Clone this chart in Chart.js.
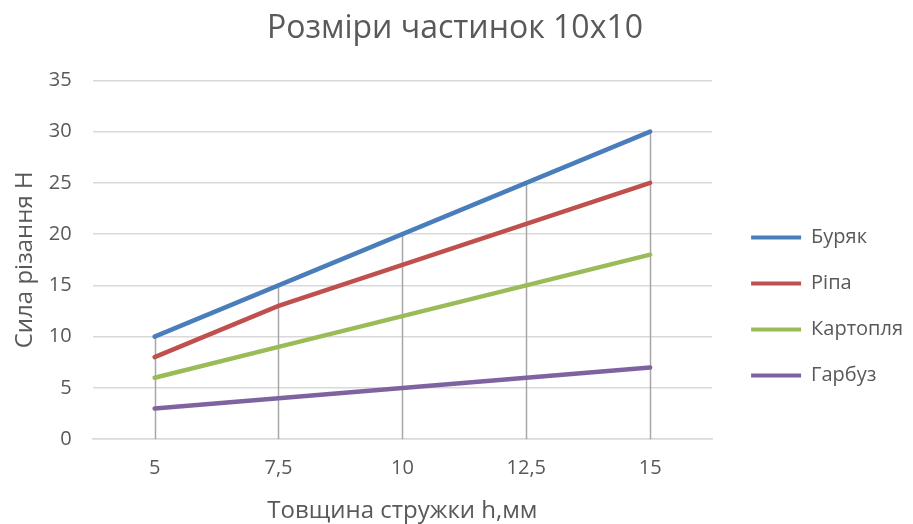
<!DOCTYPE html>
<html>
<head>
<meta charset="utf-8">
<script src="https://cdn.jsdelivr.net/npm/chart.js@4/dist/chart.umd.min.js"></script>
<style>
  html, body { margin: 0; padding: 0; background: #ffffff; }
  #wrap { width: 913px; height: 524px; }
</style>
</head>
<body>
<div id="wrap"><canvas id="c" width="913" height="524"></canvas></div>
<script>
// Товщина стружки (мм) і сила різання (Н) для кожного овоча
const categories = ["5", "7,5", "10", "12,5", "15"];
const buryak    = [10, 15, 20, 25, 30];
const ripa      = [8, 13, 17, 21, 25];
const kartoplia = [6, 9, 12, 15, 18];
const garbuz    = [3, 4, 5, 6, 7];
const seriesNames = ["Буряк", "Ріпа", "Картопля", "Гарбуз"];
const yTicks = [0, 5, 10, 15, 20, 25, 30, 35];

const colors = ["#4a7ebb", "#c0504d", "#9bbb59", "#7f63a1"];
const FONT = "'Open Sans', 'Noto Sans', sans-serif";
const TEXT = "#595959";
const LEGEND_PAD = 26;

// Вертикальні лінії від найвищої точки до осі X
const dropLines = {
  id: "dropLines",
  beforeDatasetsDraw(chart) {
    const ctx = chart.ctx;
    const y = chart.scales.y;
    const n = chart.data.labels.length;
    ctx.save();
    ctx.strokeStyle = "#a6a6a6";
    ctx.lineWidth = 1.5;
    for (let i = 0; i < n; i++) {
      let top = Infinity, x = null;
      chart.data.datasets.forEach((ds, k) => {
        const pt = chart.getDatasetMeta(k).data[i];
        if (pt) { x = pt.x; top = Math.min(top, pt.y); }
      });
      if (x === null) continue;
      ctx.beginPath();
      ctx.moveTo(Math.round(x) + 0.5, top);
      ctx.lineTo(Math.round(x) + 0.5, y.getPixelForValue(0));
      ctx.stroke();
    }
    ctx.restore();
  }
};

// Легенда праворуч: відступ від області графіка та вертикальне положення
const legendPlacement = {
  id: "legendPlacement",
  afterLayout(chart) {
    const lg = chart.legend;
    const area = chart.chartArea;
    const w = lg.width, h = lg.height;
    lg.left = area.right + 39 - LEGEND_PAD;
    lg.right = lg.left + w;
    lg.top = area.top + 147 - LEGEND_PAD;
    lg.bottom = lg.top + h;
  }
};

const seriesData = [buryak, ripa, kartoplia, garbuz];

new Chart(document.getElementById("c"), {
  type: "line",
  data: {
    labels: categories,
    datasets: seriesData.map((d, i) => ({
      label: seriesNames[i],
      data: d,
      borderColor: colors[i],
      backgroundColor: colors[i],
      borderWidth: 4.5,
      pointRadius: 0,
      tension: 0,
      borderCapStyle: "round"
    }))
  },
  options: {
    responsive: false,
    animation: false,
    layout: { padding: { left: 10, right: 13, top: 10, bottom: 0 } },
    plugins: {
      title: {
        display: true,
        text: "Розміри частинок 10x10",
        color: TEXT,
        font: { family: FONT, size: 32, weight: "normal" },
        padding: { top: 0, bottom: 32 }
      },
      legend: {
        position: "right",
        align: "start",
        labels: {
          color: TEXT,
          font: { family: FONT, size: 20 },
          boxWidth: 50,
          boxHeight: 4,
          padding: LEGEND_PAD,
          generateLabels(chart) {
            return chart.data.datasets.map((ds, i) => ({
              text: ds.label,
              fillStyle: ds.borderColor,
              strokeStyle: ds.borderColor,
              lineWidth: 0,
              fontColor: TEXT,
              datasetIndex: i
            }));
          }
        }
      },
      tooltip: { enabled: false }
    },
    scales: {
      x: {
        offset: true,
        grid: { display: false, drawTicks: false },
        border: { display: true, color: "#d9d9d9", width: 1.5 },
        ticks: { color: TEXT, font: { family: FONT, size: 20 }, padding: 17 },
        title: {
          display: true,
          text: "Товщина стружки h,мм",
          color: TEXT,
          font: { family: FONT, size: 24 },
          padding: { top: 0, bottom: -2 }
        }
      },
      y: {
        min: yTicks[0],
        max: yTicks[yTicks.length - 1],
        afterBuildTicks(scale) { scale.ticks = yTicks.map(v => ({ value: v })); },
        grid: { color: "#d9d9d9", lineWidth: 1.5, drawTicks: false },
        border: { display: false },
        ticks: { color: TEXT, font: { family: FONT, size: 20 }, padding: 21 },
        title: {
          display: true,
          text: "Сила різання Н",
          color: TEXT,
          font: { family: FONT, size: 24 },
          padding: { top: 1, bottom: -12 }
        }
      }
    }
  },
  plugins: [dropLines, legendPlacement]
});
</script>
</body>
</html>
